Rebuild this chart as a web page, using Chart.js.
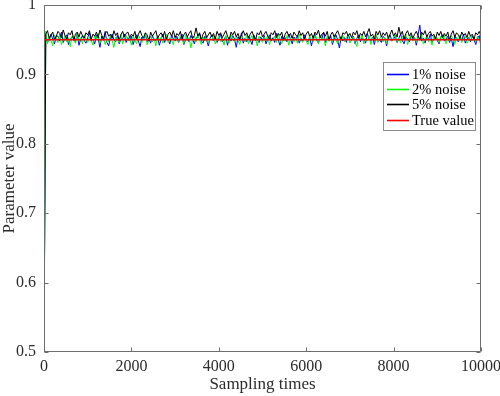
<!DOCTYPE html>
<html>
<head>
<meta charset="utf-8">
<script src="https://cdn.jsdelivr.net/npm/chart.js@4.4.1/dist/chart.umd.min.js"></script>
<style>
html,body{margin:0;padding:0;background:#fff;}
#wrap{width:500px;height:396px;position:relative;}
</style>
</head>
<body>
<div id="wrap"><canvas id="c" width="500" height="396"></canvas></div>
<script>
// ---- data ----
const seriesLabels = ['1% noise', '2% noise', '5% noise', 'True value'];
const sampleStep = 40;          // sampling-time spacing of the listed values
const xTicks = [0, 2000, 4000, 6000, 8000, 10000];
const yTicks = [0.5, 0.6, 0.7, 0.8, 0.9, 1];
const trueValue = 0.95;
const trueTimes = [0, 10000];

const noise1 = [0.5,
0.953,0.947,0.949,0.958,0.951,0.944,0.955,0.955,0.948,0.961,0.946,0.952,0.957,0.943,0.950,0.954,0.954,0.947,0.959,0.942,0.951,0.956,0.949,0.945,0.953,
0.960,0.948,0.951,0.944,0.957,0.952,0.939,0.955,0.949,0.962,0.946,0.941,0.953,0.958,0.950,0.947,0.956,0.944,0.951,0.951,0.958,0.946,0.953,0.949,0.955,
0.943,0.952,0.957,0.948,0.940,0.954,0.950,0.959,0.947,0.952,0.945,0.956,0.949,0.949,0.954,0.942,0.951,0.958,0.946,0.953,0.950,0.944,0.957,0.951,0.948,
0.955,0.946,0.952,0.958,0.943,0.950,0.954,0.947,0.956,0.951,0.944,0.953,0.953,0.959,0.948,0.945,0.955,0.950,0.941,0.952,0.957,0.949,0.954,0.946,0.951,
0.958,0.947,0.950,0.955,0.942,0.953,0.948,0.956,0.951,0.939,0.954,0.949,0.960,0.945,0.952,0.947,0.955,0.950,0.943,0.957,0.951,0.951,0.946,0.954,0.949,
0.956,0.944,0.951,0.957,0.948,0.953,0.946,0.959,0.950,0.942,0.955,0.949,0.953,0.947,0.958,0.951,0.944,0.954,0.950,0.956,0.945,0.952,0.948,0.957,0.950,
0.947,0.954,0.941,0.953,0.958,0.949,0.945,0.955,0.951,0.961,0.946,0.952,0.948,0.956,0.943,0.951,0.957,0.950,0.938,0.954,0.948,0.953,0.946,0.958,0.951,
0.949,0.955,0.944,0.952,0.957,0.947,0.953,0.950,0.945,0.959,0.951,0.948,0.954,0.943,0.956,0.950,0.950,0.946,0.955,0.952,0.941,0.953,0.957,0.948,0.951,
0.955,0.946,0.952,0.958,0.949,0.944,0.954,0.951,0.947,0.956,0.950,0.953,0.942,0.957,0.971,0.948,0.952,0.945,0.955,0.950,0.958,0.946,0.951,0.954,0.949,
0.944,0.953,0.957,0.948,0.951,0.955,0.946,0.952,0.940,0.956,0.950,0.947,0.954,0.949,0.958,0.945,0.951,0.953,0.947,0.955,0.950,0.943,0.952,0.956,0.939];

const noise2 = [0.5,
0.962,0.944,0.955,0.949,0.941,0.957,0.952,0.946,0.958,0.943,0.950,0.956,0.947,0.953,0.940,0.955,0.951,0.945,0.959,0.948,0.953,0.944,0.957,0.950,0.946,
0.954,0.948,0.942,0.956,0.951,0.959,0.945,0.950,0.955,0.943,0.952,0.947,0.957,0.949,0.939,0.954,0.950,0.946,0.958,0.944,0.951,0.956,0.948,0.953,0.942,
0.955,0.949,0.944,0.957,0.951,0.946,0.953,0.958,0.943,0.950,0.955,0.947,0.952,0.941,0.956,0.949,0.954,0.945,0.951,0.958,0.946,0.953,0.949,0.943,0.955,
0.950,0.946,0.956,0.952,0.944,0.957,0.949,0.953,0.938,0.951,0.955,0.947,0.958,0.950,0.943,0.954,0.948,0.956,0.945,0.952,0.949,0.957,0.944,0.951,0.955,
0.947,0.953,0.942,0.956,0.950,0.945,0.958,0.951,0.946,0.954,0.949,0.943,0.955,0.952,0.947,0.957,0.944,0.951,0.956,0.948,0.953,0.941,0.955,0.950,0.946,
0.954,0.948,0.957,0.943,0.952,0.949,0.955,0.946,0.959,0.950,0.944,0.953,0.948,0.956,0.942,0.951,0.955,0.947,0.953,0.945,0.958,0.950,0.946,0.954,0.949,
0.943,0.955,0.950,0.947,0.956,0.952,0.944,0.957,0.949,0.953,0.941,0.955,0.948,0.951,0.946,0.957,0.950,0.944,0.954,0.949,0.956,0.947,0.952,0.958,0.945,
0.951,0.954,0.946,0.940,0.955,0.950,0.957,0.944,0.952,0.948,0.956,0.943,0.953,0.949,0.958,0.946,0.951,0.955,0.947,0.953,0.944,0.956,0.950,0.948,0.954,
0.957,0.947,0.952,0.945,0.955,0.950,0.958,0.943,0.951,0.956,0.948,0.953,0.946,0.954,0.949,0.959,0.944,0.951,0.955,0.947,0.952,0.942,0.956,0.950,0.953,
0.946,0.955,0.950,0.957,0.944,0.952,0.948,0.956,0.951,0.943,0.954,0.949,0.957,0.946,0.952,0.955,0.945,0.950,0.956,0.948,0.953,0.947,0.955,0.950,0.952];

const noise5 = [0.5,
0.958,0.963,0.952,0.957,0.961,0.950,0.955,0.962,0.959,0.953,0.964,0.956,0.951,0.960,0.957,0.963,0.949,0.958,0.961,0.954,0.962,0.956,0.952,0.960,0.957,
0.963,0.951,0.958,0.955,0.961,0.953,0.964,0.957,0.950,0.959,0.962,0.955,0.958,0.952,0.963,0.956,0.960,0.949,0.957,0.962,0.954,0.959,0.961,0.953,0.958,
0.955,0.962,0.951,0.958,0.963,0.956,0.953,0.960,0.957,0.948,0.961,0.955,0.959,0.963,0.952,0.957,0.960,0.954,0.962,0.950,0.958,0.961,0.955,0.963,0.953,
0.959,0.956,0.962,0.951,0.957,0.961,0.954,0.959,0.963,0.952,0.956,0.967,0.955,0.960,0.950,0.958,0.962,0.953,0.957,0.961,0.954,0.959,0.951,0.962,0.956,
0.960,0.953,0.958,0.963,0.955,0.950,0.961,0.957,0.962,0.954,0.959,0.951,0.957,0.963,0.956,0.960,0.952,0.958,0.962,0.955,0.949,0.960,0.957,0.963,0.954,
0.958,0.962,0.955,0.951,0.960,0.957,0.963,0.953,0.959,0.956,0.961,0.950,0.958,0.962,0.955,0.959,0.952,0.961,0.957,0.954,0.963,0.956,0.960,0.951,0.958,
0.962,0.955,0.959,0.952,0.961,0.957,0.964,0.953,0.958,0.960,0.955,0.962,0.950,0.957,0.961,0.954,0.959,0.963,0.956,0.951,0.960,0.958,0.962,0.955,0.959,
0.953,0.961,0.957,0.963,0.952,0.959,0.956,0.962,0.954,0.960,0.966,0.955,0.958,0.951,0.962,0.957,0.963,0.954,0.960,0.956,0.961,0.952,0.958,0.964,0.955,
0.960,0.954,0.968,0.957,0.962,0.951,0.959,0.963,0.955,0.960,0.952,0.958,0.962,0.956,0.950,0.961,0.957,0.963,0.954,0.959,0.962,0.955,0.958,0.951,0.961,
0.956,0.962,0.953,0.959,0.955,0.961,0.950,0.958,0.963,0.954,0.960,0.957,0.952,0.961,0.956,0.959,0.953,0.962,0.955,0.958,0.951,0.960,0.957,0.962,0.955];

// ---- build points ----
const toPoints = arr => arr.map((v, i) => ({x: i * sampleStep, y: v}));
const truePoints = trueTimes.map(t => ({x: t, y: trueValue}));

const FONT = '"Liberation Serif", "Times New Roman", serif';
const AXIS = '#6e6e6e';
const TXT = '#2b2b2b';

const frame = {
  id: 'frame',
  afterDatasetsDraw(chart) {
    const {ctx, chartArea: a, scales} = chart;
    ctx.save();
    ctx.strokeStyle = AXIS;
    ctx.lineWidth = 1;
    const L = Math.round(a.left) + 0.5, R = Math.round(a.right) - 0.5;
    const T = Math.round(a.top) + 0.5, B = Math.round(a.bottom) - 0.5;
    ctx.beginPath();
    ctx.rect(L, T, R - L, B - T);
    const tl = 4;
    xTicks.forEach(v => {
      const x = Math.round(scales.x.getPixelForValue(v)) + 0.5;
      ctx.moveTo(x, B); ctx.lineTo(x, B - tl);
      ctx.moveTo(x, T); ctx.lineTo(x, T + tl);
    });
    yTicks.forEach(v => {
      const y = Math.round(scales.y.getPixelForValue(v)) + 0.5;
      ctx.moveTo(L, y); ctx.lineTo(L + tl, y);
      ctx.moveTo(R, y); ctx.lineTo(R - tl, y);
    });
    ctx.stroke();

    // legend box
    const bx = 383.5, by = 62.5, bw = 92, bh = 68;
    ctx.fillStyle = '#fff';
    ctx.fillRect(bx, by, bw, bh);
    ctx.strokeStyle = '#8c8c8c';
    ctx.lineWidth = 1;
    ctx.strokeRect(bx, by, bw, bh);
    ctx.font = '14.5px ' + FONT;
    ctx.textBaseline = 'alphabetic';
    ctx.textAlign = 'left';
    const rows = [74, 89, 104, 120];
    chart.data.datasets.forEach((ds, i) => {
      const y = rows[i];
      ctx.strokeStyle = ds.borderColor;
      ctx.lineWidth = 1.6;
      ctx.beginPath();
      ctx.moveTo(387, y + 0.5);
      ctx.lineTo(409, y + 0.5);
      ctx.stroke();
      ctx.fillStyle = '#000';
      ctx.fillText(ds.label, 412, y + 5);
    });
    ctx.restore();
  }
};

new Chart(document.getElementById('c'), {
  type: 'line',
  data: {
    datasets: [
      {label: seriesLabels[0], data: toPoints(noise1), borderColor: '#0000ff', borderWidth: 1, order: 3},
      {label: seriesLabels[1], data: toPoints(noise2), borderColor: '#00ff00', borderWidth: 1, order: 2},
      {label: seriesLabels[2], data: toPoints(noise5), borderColor: '#000000', borderWidth: 1, order: 1},
      {label: seriesLabels[3], data: truePoints, borderColor: '#ff0000', borderWidth: 1.6, order: 0}
    ]
  },
  options: {
    responsive: false,
    animation: false,
    elements: {
      line: {tension: 0},
      point: {radius: 0, hoverRadius: 0}
    },
    layout: {padding: {left: 0, right: 19, top: 5, bottom: 0}},
    plugins: {legend: {display: false}, tooltip: {enabled: false}},
    events: [],
    scales: {
      x: {
        type: 'linear',
        min: 0, max: 10000,
        border: {display: false},
        grid: {display: false, drawTicks: false},
        afterBuildTicks: s => { s.ticks = xTicks.map(v => ({value: v})); },
        afterFit: s => { s.height = 44; s.paddingLeft = 0; s.paddingRight = 0; },
        ticks: {
          color: TXT, padding: 5, maxRotation: 0, autoSkip: false,
          font: {family: FONT, size: 16},
          callback: v => String(v)
        },
        title: {display: true, text: 'Sampling times', color: TXT,
                font: {family: FONT, size: 17}, padding: {top: 0, bottom: 1}}
      },
      y: {
        type: 'linear',
        min: 0.5, max: 1,
        border: {display: false},
        grid: {display: false, drawTicks: false},
        afterBuildTicks: s => { s.ticks = yTicks.map(v => ({value: v})); },
        afterFit: s => { s.width = 44; s.paddingTop = 0; s.paddingBottom = 0; },
        ticks: {
          color: TXT, padding: 8, autoSkip: false,
          font: {family: FONT, size: 16},
          callback: v => String(Math.round(v * 10) / 10)
        },
        title: {display: true, text: 'Parameter value', color: TXT,
                font: {family: FONT, size: 17}, padding: {top: -1, bottom: 0}}
      }
    }
  },
  plugins: [frame]
});
</script>
</body>
</html>
